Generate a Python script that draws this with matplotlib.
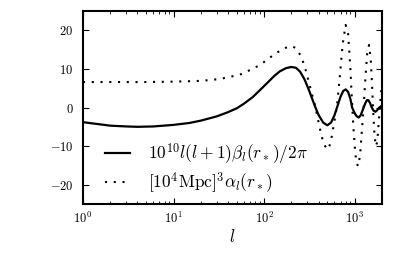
import numpy as np
import matplotlib
matplotlib.use("Agg")
import matplotlib.pyplot as plt
from matplotlib.ticker import FuncFormatter, LogLocator, FixedLocator

plt.rcParams['mathtext.fontset'] = 'cm'
plt.rcParams['font.family'] = 'serif'

l_beta = [1, 2, 3, 4, 6, 10, 15, 20, 30, 40, 50, 60, 75, 90, 110, 130, 150, 175,
          200, 225, 250, 280, 310, 340, 370, 400, 450, 500, 550, 600, 640, 700,
          750, 800, 850, 900, 940, 1000, 1050, 1110, 1170, 1260, 1320, 1370, 1420,
          1480, 1550, 1620, 1700, 1780, 1860, 1950, 2000]
beta = [-3.8, -4.7, -4.9, -5.0, -4.9, -4.5, -4.0, -3.4, -2.3, -1.2, -0.2, 1.0, 2.7,
        4.5, 6.5, 8.2, 9.4, 10.2, 10.5, 10.3, 9.3, 7.3, 4.8, 2.3, 0.0, -1.9, -3.9,
        -4.6, -3.9, -2.0, 0.0, 2.8, 4.3, 4.7, 4.0, 2.2, 0.0, -1.4, -2.2, -2.6, -2.0,
        0.0, 1.2, 1.9, 1.9, 1.2, 0.0, -0.8, -1.1, -0.7, -0.1, 0.3, 0.5]

l_alpha = [1, 2, 5, 10, 20, 30, 40, 55, 70, 90, 110, 130, 150, 175, 205, 230, 260,
           290, 330, 370, 410, 450, 496, 540, 590, 640, 690, 740, 797, 850, 900,
           925, 970, 1020, 1060, 1094, 1150, 1200, 1260, 1320, 1380, 1446, 1510,
           1560, 1600, 1650, 1710, 1780, 1860, 1950, 2000]
alpha = [6.6, 6.6, 6.6, 6.7, 6.9, 7.3, 7.8, 8.6, 9.7, 11.0, 12.5, 13.8, 14.7, 15.5,
         15.9, 15.2, 13.0, 9.5, 4.5, 0.0, -5.0, -9.0, -10.9, -9.5, -4.5, 0.5, 8.5,
         16.5, 21.4, 19.0, 10.0, 4.0, -5.0, -12.0, -14.5, -15.2, -12.5, -6.5, 0.0,
         8.0, 14.0, 16.2, 12.5, 6.0, 0.0, -6.0, -10.0, -9.0, -3.0, 3.0, 6.0]

label_beta = r'$10^{10}l(l+1)\beta_l(r_*)/2\pi$'
label_alpha = r'$[10^4\mathrm{Mpc}]^3\alpha_l(r_*)$'

fig = plt.figure(figsize=(4.15, 2.56), dpi=100)
ax = fig.add_axes([0.2, 0.203, 0.72, 0.754])

ax.plot(l_beta, beta, color='black', lw=1.6, ls='-', label=label_beta)
ax.plot(l_alpha, alpha, color='black', lw=1.5, ls=(0, (1, 3.2)), label=label_alpha)

ax.set_xscale('log')
ax.set_xlim(1, 2000)
ax.set_ylim(-25, 25)
ax.yaxis.set_major_locator(FixedLocator([-20, -10, 0, 10, 20]))
ax.yaxis.set_major_formatter(FuncFormatter(lambda v, p: r'$%d$' % v))
ax.xaxis.set_major_locator(LogLocator(base=10, numticks=10))
ax.xaxis.set_major_formatter(FuncFormatter(lambda v, p: r'$10^{%d}$' % round(np.log10(v))))

ax.tick_params(which='both', direction='in', top=True, right=True, labelsize=9)
ax.tick_params(which='major', length=4, width=0.8)
ax.tick_params(which='minor', length=2, width=0.6)
ax.tick_params(axis='y', which='major', pad=7)
ax.tick_params(axis='x', which='major', pad=5)
for s in ax.spines.values():
    s.set_linewidth(1.5)

ax.set_xlabel(r'$l$', fontsize=12, labelpad=2)

ax.legend(loc='lower left', bbox_to_anchor=(0.05, 0.01), frameon=False,
          fontsize=12.5, handlelength=1.45, handletextpad=1.05, labelspacing=0.2,
          borderaxespad=0.0)

fig.savefig('out.png', dpi=100)
